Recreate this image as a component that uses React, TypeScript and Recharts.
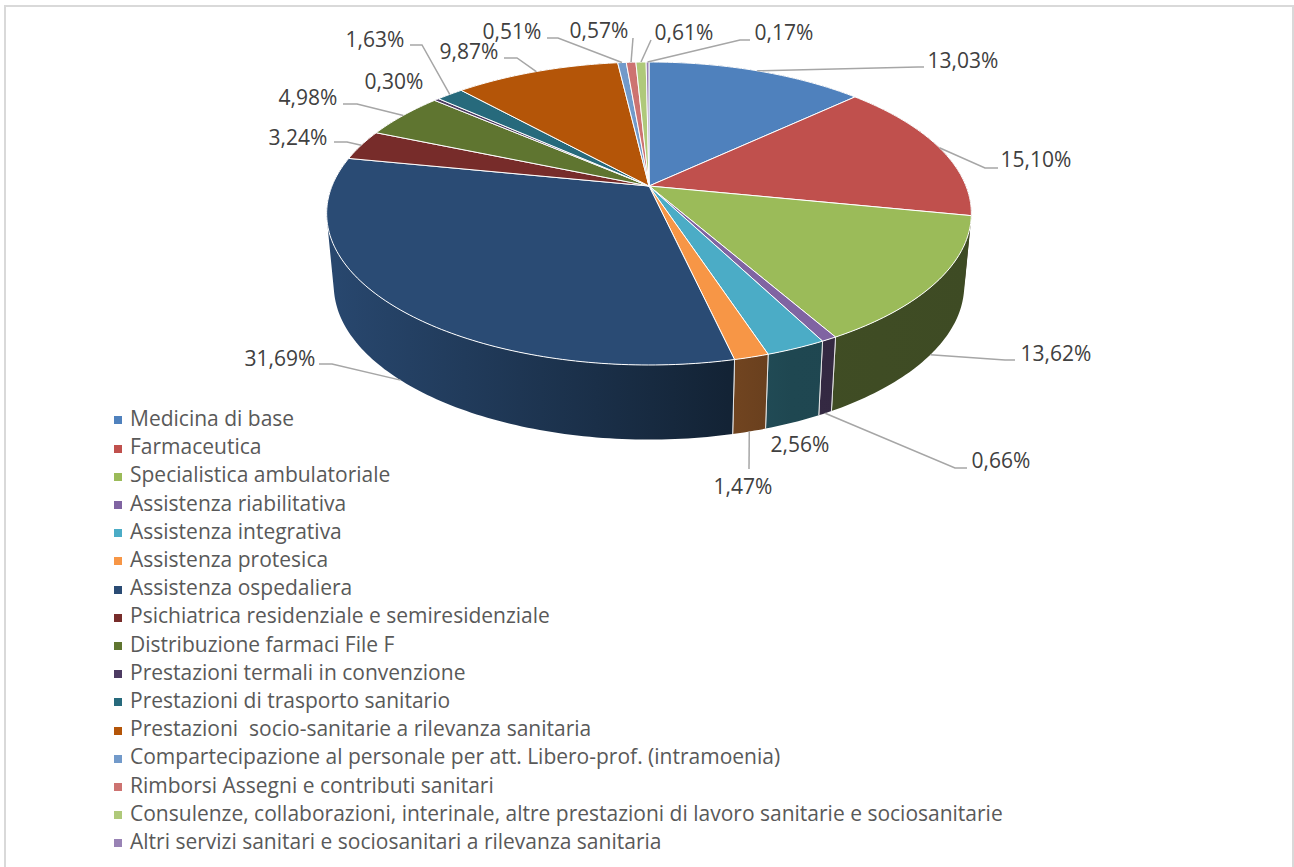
import React from "react";
import { PieChart, Pie, Legend } from "recharts";

const categories = [
  "Medicina di base",
  "Farmaceutica",
  "Specialistica ambulatoriale",
  "Assistenza riabilitativa",
  "Assistenza integrativa",
  "Assistenza protesica",
  "Assistenza ospedaliera",
  "Psichiatrica residenziale e semiresidenziale",
  "Distribuzione farmaci File F",
  "Prestazioni termali in convenzione",
  "Prestazioni di trasporto sanitario",
  "Prestazioni  socio-sanitarie a rilevanza sanitaria",
  "Compartecipazione al personale per att. Libero-prof. (intramoenia)",
  "Rimborsi Assegni e contributi sanitari",
  "Consulenze, collaborazioni, interinale, altre prestazioni di lavoro sanitarie e sociosanitarie",
  "Altri servizi sanitari e sociosanitari a rilevanza sanitaria",
];

const values = [13.03, 15.1, 13.62, 0.66, 2.56, 1.47, 31.69, 3.24, 4.98, 0.3, 1.63, 9.87, 0.51, 0.57, 0.61, 0.17];

const colors = [
  "#4f81bd", "#c0504d", "#9bbb59", "#8064a2", "#4bacc6", "#f79646", "#2a4b74", "#772c2a",
  "#5f7530", "#4d3b62", "#276a7c", "#b45508", "#729aca", "#cd7371", "#afc97a", "#9983b5",
];

// where each callout text sits and the bend of its leader line
const calloutText = [
  [963, 60], [1036, 159], [1056, 353], [1001, 460], [800, 444], [743, 486], [280, 358], [298, 137],
  [308, 97], [394, 81], [375, 39], [469, 51], [512, 31], [599, 30], [684, 32], [784, 32],
];
const calloutBend = [
  [918, 67], [985, 168], [1005, 360], [955, 468], null, [749, 469], [332, 364], [347, 142],
  [357, 104], null, [422, 45], [517, 58], [558, 38], [633, 38], [651, 40], [740, 40],
];
const calloutEnd = [
  [924, 67], [998, 168], [1015, 360], [967, 468], null, null, [319, 364], [334, 142],
  [343, 104], null, [410, 45], [504, 58], [547, 38], null, null, [750, 40],
];
// 1 = the leader starts on the lower rim of the wall
const calloutOnWall = [0, 0, 1, 1, 0, 1, 1, 0, 0, 0, 0, 0, 0, 0, 0, 0];

const FONT = "'Open Sans', sans-serif";
const CX = 649;
const CY = 186;

const tableData = categories.map((name, i) => ({ name, value: values[i], fill: colors[i] }));

// perspective projection of the pie's rim
const rim = (angle: number, wall: boolean) => {
  const t = ((90 - angle) * Math.PI) / 180;
  const u = Math.sin(t);
  const v = Math.cos(t);
  const d = 1 + 0.1815 * v;
  const sx = wall ? 0.978 : 1;
  const sy = wall ? 1.02 : 1;
  return [CX + (sx * 317 * u) / d, CY + (wall ? 71 : 0) - (sy * 146.5 * v) / d];
};

const arcPoints = (from: number, to: number, wall: boolean) => {
  const n = Math.max(2, Math.ceil(Math.abs(to - from)));
  const pts = [];
  for (let i = 0; i <= n; i++) pts.push(rim(from + ((to - from) * i) / n, wall));
  return pts;
};

const toPath = (pts: number[][]) => pts.map((p, i) => `${i ? "L" : "M"}${p[0].toFixed(2)} ${p[1].toFixed(2)}`).join("") + "Z";

const TopSlice = (props: any) => {
  const { startAngle, endAngle, fill } = props;
  const d = toPath([[CX, CY], ...arcPoints(startAngle, endAngle, false)]);
  return <path d={d} fill={fill} stroke="#fff" strokeWidth={1} strokeLinejoin="round" />;
};

// the wall is a run of small quads, all wound the same way, so the fold at the pie's left and right silhouette stays filled
const WallSlice = (props: any) => {
  const { startAngle, endAngle, index } = props;
  const top = arcPoints(startAngle, endAngle, false);
  const low = arcPoints(startAngle, endAngle, true);
  let d = "";
  for (let i = 0; i < top.length - 1; i++) {
    const quad = [top[i], top[i + 1], low[i + 1], low[i]];
    let area = 0;
    quad.forEach((p, j) => {
      const q = quad[(j + 1) % 4];
      area += p[0] * q[1] - q[0] * p[1];
    });
    d += toPath(area < 0 ? quad.reverse() : quad);
  }
  const n = top.length - 1;
  // no seam line out at the silhouette, it would show against the white page
  const seams = [0, n].filter((i) => Math.abs(top[i][0] - CX) < 300);
  return (
    <g>
      <path d={d} fill={`url(#wall${index})`} fillRule="nonzero" />
      {seams.map((i) => (
        <path key={i} d={`M${top[i].join(" ")}L${low[i].join(" ")}`} stroke="#e4e4e4" strokeWidth={1} />
      ))}
    </g>
  );
};

const shade = (hex: string, f: number) => {
  const n = parseInt(hex.slice(1), 16);
  const c = [n >> 16, (n >> 8) & 255, n & 255].map((x) => Math.round(x * f));
  return `rgb(${c.join(",")})`;
};

const Callout = (props: any) => {
  const { index, midAngle } = props;
  const [tx, ty] = calloutText[index];
  const bend = calloutBend[index];
  const end = calloutEnd[index];
  const start = rim(midAngle, calloutOnWall[index] === 1);
  const pts = bend ? [start, bend, ...(end ? [end] : [])] : [];
  return (
    <g>
      {pts.length > 0 && (
        <polyline points={pts.map((p) => p.join(",")).join(" ")} fill="none" stroke="#a6a6a6" strokeWidth={1.5} />
      )}
      <text x={tx} y={ty} textAnchor="middle" dominantBaseline="central" fontFamily={FONT} fontSize={21} fill="#404040">
        {values[index].toFixed(2).replace(".", ",")}%
      </text>
    </g>
  );
};

export default function App() {
  return (
    <div style={{ position: "absolute", left: 0, top: 0, width: 1294, height: 867, background: "#fff", overflow: "hidden" }}>
      <div
        style={{
          position: "absolute",
          left: 4,
          top: 5,
          width: 1286,
          height: 870,
          border: "2px solid #d9d9d9",
        }}
      />
      <PieChart width={1294} height={867} margin={{ top: 0, right: 0, bottom: 0, left: 0 }} style={{ position: "absolute" }}>
        <defs>
          {colors.map((c, i) => (
            <linearGradient key={c} id={`wall${i}`} gradientUnits="userSpaceOnUse" x1={333} y1={0} x2={970} y2={0}>
              <stop offset="0" stopColor={shade(c, 0.95)} />
              <stop offset="0.62" stopColor={shade(c, 0.46)} />
              <stop offset="0.72" stopColor={shade(c, 0.41)} />
              <stop offset="1" stopColor={shade(c, 0.4)} />
            </linearGradient>
          ))}
        </defs>
        <Pie
          data={tableData}
          dataKey="value"
          nameKey="name"
          cx={CX}
          cy={CY}
          outerRadius={146}
          startAngle={90}
          endAngle={-270}
          shape={WallSlice}
          legendType="none"
          isAnimationActive={false}
        />
        <Pie
          data={tableData}
          dataKey="value"
          nameKey="name"
          cx={CX}
          cy={CY}
          outerRadius={146}
          startAngle={90}
          endAngle={-270}
          shape={TopSlice}
          label={Callout}
          labelLine={false}
          isAnimationActive={false}
        />
        <Legend
          layout="vertical"
          iconType="square"
          iconSize={8}
          itemSorter={null}
          wrapperStyle={{ position: "absolute", left: 114, top: 404, width: 1000, fontFamily: FONT, fontSize: 21, lineHeight: "28.2px" }}
          formatter={(value: string) => <span style={{ color: "#595959", marginLeft: 4, whiteSpace: "pre" }}>{value}</span>}
        />
      </PieChart>
    </div>
  );
}
